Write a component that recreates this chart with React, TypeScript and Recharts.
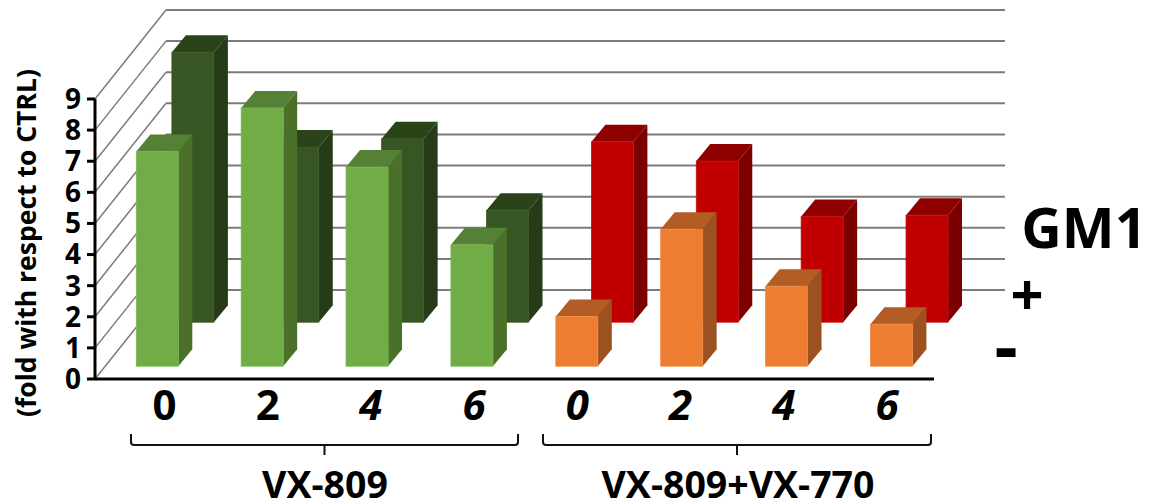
import React from "react";
import { BarChart, Bar, XAxis, YAxis, CartesianGrid, Customized } from "recharts";

const doses = ["0", "2", "4", "6", "0", "2", "4", "6"];
const withoutGm1 = [6.9, 8.3, 6.4, 3.9, 1.6, 4.4, 2.57, 1.35];
const withGm1 = [8.68, 5.63, 5.9, 3.6, 5.8, 5.18, 3.4, 3.44];
const yTicks = [0, 1, 2, 3, 4, 5, 6, 7, 8, 9];
const groups = ["VX-809", "VX-809+VX-770"];
const yTitle = "(fold with respect to CTRL)";

const data = doses.map((dose, i) => ({ dose, minus: withoutGm1[i], plus: withGm1[i] }));

const FONT = "'Open Sans', sans-serif";
const front = [
  { face: "#70AD47", side: "#4A7029", top: "#558136", edge: "#7CB556" },
  { face: "#ED7D31", side: "#9C5220", top: "#B25D25", edge: "#F08C48" },
];
const back = [
  { face: "#375623", side: "#263C18", top: "#2B4319", edge: "#375623" },
  { face: "#C00000", side: "#7C0000", top: "#8F0000", edge: "#C41010" },
];

const Box = (props: any, palette: any[], dx: number, dy: number) => {
  const { x, y, width, height, index } = props;
  const c = palette[index < 4 ? 0 : 1];
  const X = x + dx;
  const Y = y + dy;
  const d = 14;
  const e = 17;
  return (
    <g>
      <polygon points={`${X + width},${Y} ${X + width + d},${Y - e} ${X + width + d},${Y + height - e} ${X + width},${Y + height}`} fill={c.side} />
      <polygon points={`${X},${Y} ${X + d},${Y - e} ${X + width + d},${Y - e} ${X + width},${Y}`} fill={c.top} />
      <rect x={X} y={Y} width={width} height={height} fill={c.face} stroke={c.edge} strokeWidth={0.8} />
    </g>
  );
};

const Wall = (p: any) => {
  const { x1, y1, x2 } = p;
  const bx = 71;
  const by = 89;
  return (
    <g key={p.key}>
      <line x1={x1} y1={y1} x2={x1 + bx} y2={y1 - by} stroke="#7F7B7B" strokeWidth={1.5} />
      <line x1={x1 + bx} y1={y1 - by} x2={x2 + bx} y2={y1 - by} stroke="#7F7B7B" strokeWidth={2} />
    </g>
  );
};

const XTick = (p: any) => {
  const { x, payload, index } = p;
  const i = index ?? payload.index;
  return (
    <text
      x={x + 17 - 1.65 * i}
      y={420}
      textAnchor="middle"
      fontFamily={FONT}
      fontWeight={700}
      fontStyle={i < 2 ? "normal" : "italic"}
      fontSize={42}
      fill="#000"
    >
      {payload.value}
    </text>
  );
};

const Brace = ({ a, b }: { a: number; b: number }) => {
  const m = (a + b) / 2;
  return (
    <g fill="none" stroke="#111" strokeWidth={2}>
      <path d={`M${a} 434 L${a} 442 Q${a} 445 ${a + 3} 445 L${b - 3} 445 Q${b} 445 ${b} 442 L${b} 434`} />
      <path d={`M${m} 445 L${m} 455`} />
    </g>
  );
};

const Extras = () => (
  <g>
    <Brace a={131} b={518} />
    <Brace a={543} b={931} />
    <text x={325} y={498} textAnchor="middle" fontFamily={FONT} fontWeight={700} fontSize={37.5} fill="#000">{groups[0]}</text>
    <text x={738} y={498} textAnchor="middle" fontFamily={FONT} fontWeight={700} fontSize={37.5} fill="#000">{groups[1]}</text>
    <text x={1084} y={248} textAnchor="middle" fontFamily={FONT} fontWeight={700} fontSize={56} fill="#000">GM1</text>
    <text x={1027} y={315} textAnchor="middle" fontFamily={FONT} fontWeight={700} fontSize={58} fill="#000">+</text>
    <text x={1006} y={372} textAnchor="middle" fontFamily={FONT} fontWeight={700} fontSize={72} fill="#000">-</text>
    <text
      transform="translate(36 243) rotate(-90)"
      textAnchor="middle"
      fontFamily={FONT}
      fontWeight={700}
      fontSize={26.5}
      fill="#000"
    >
      {yTitle}
    </text>
  </g>
);

export default function App() {
  return (
    <div style={{ position: "absolute", left: 0, top: 0 }}>
      <BarChart
        width={1151}
        height={504}
        data={data}
        margin={{ top: 99, right: 217, bottom: 0, left: 10 }}
        barSize={42}
        barGap={-42}
      >
        <CartesianGrid vertical={false} horizontal={Wall as any} />
        <XAxis
          dataKey="dose"
          height={125}
          interval={0}
          tick={XTick as any}
          tickLine={false}
          axisLine={{ stroke: "#000", strokeWidth: 3 }}
        />
        <YAxis
          width={85}
          domain={[0, 9]}
          ticks={yTicks}
          interval={0}
          tickSize={8}
          tickMargin={6}
          tickLine={{ stroke: "#000", strokeWidth: 3 }}
          axisLine={{ stroke: "#000", strokeWidth: 3 }}
          tick={{ fontFamily: FONT, fontWeight: 700, fontSize: 28, fill: "#000" }}
        />
        <Bar dataKey="plus" isAnimationActive={false} shape={((p: any) => Box(p, back, 45.9, -56.8)) as any} />
        <Bar dataKey="minus" isAnimationActive={false} shape={((p: any) => Box(p, front, 10.3, -12.8)) as any} />
        <Customized component={Extras} />
      </BarChart>
    </div>
  );
}
